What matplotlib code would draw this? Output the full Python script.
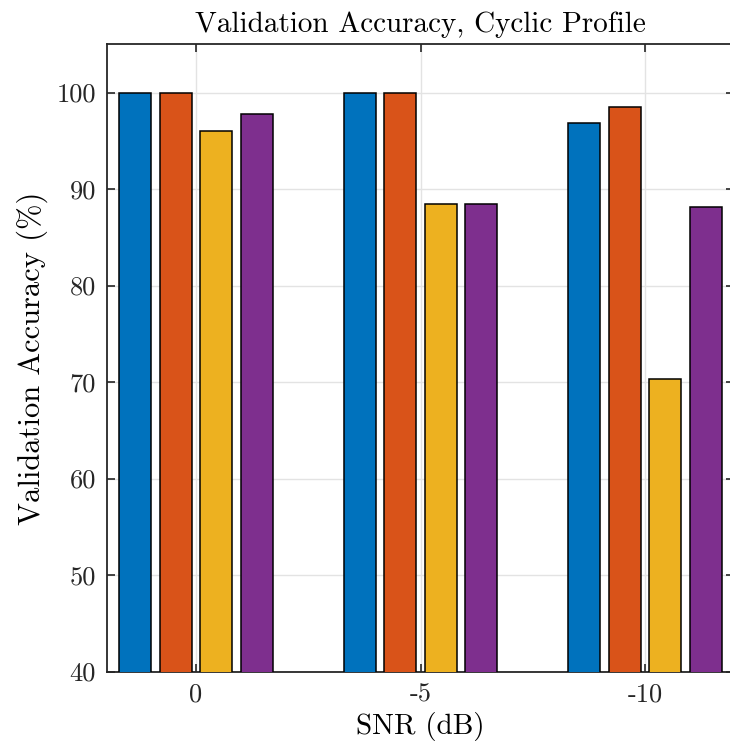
import numpy as np
import matplotlib
matplotlib.use("Agg")
import matplotlib.pyplot as plt

# data
snr_labels = ['0', '-5', '-10']
series_1 = [100.0, 100.0, 96.8]
series_2 = [100.0, 100.0, 98.5]
series_3 = [96.0, 88.5, 70.3]
series_4 = [97.8, 88.4, 88.1]
colors = ['#0072BD', '#D95319', '#EDB120', '#7E2F8E']

plt.rcParams['font.family'] = ['cmr10', 'DejaVu Sans']
plt.rcParams['mathtext.fontset'] = 'cm'
plt.rcParams['axes.unicode_minus'] = False

fig = plt.figure(figsize=(7.3, 7.51), dpi=100)
ax = fig.add_axes([107 / 730, 1 - 671.5 / 751, 627 / 730, 627.2 / 751])

x = np.arange(1, len(snr_labels) + 1)
step = 0.1804
width = 0.1425
all_series = [series_1, series_2, series_3, series_4]
for i, vals in enumerate(all_series):
    ax.bar(x + (i - 1.5) * step, vals, width, color=colors[i],
           edgecolor='black', linewidth=1.1, zorder=3)

ax.set_xlim(0.604, 3.396)
ax.set_ylim(40, 105)
ax.set_xticks(x)
ax.set_xticklabels(snr_labels)
ax.set_yticks(np.arange(40, 101, 10))

ax.grid(True, color='#e3e3e3', linewidth=1.0, zorder=0)
ax.set_axisbelow(True)
ax.tick_params(direction='in', length=6, width=1.2, colors='#262626',
               labelsize=19, top=True, right=True, pad=8)
for s in ax.spines.values():
    s.set_linewidth(1.3)
    s.set_color('#262626')

ax.set_title('Validation Accuracy, Cyclic Profile', fontsize=21, pad=9)
ax.set_xlabel('SNR (dB)', fontsize=21, labelpad=4)
ax.set_ylabel('Validation Accuracy (%)', fontsize=22, labelpad=6)

fig.savefig('out.png', dpi=100)
